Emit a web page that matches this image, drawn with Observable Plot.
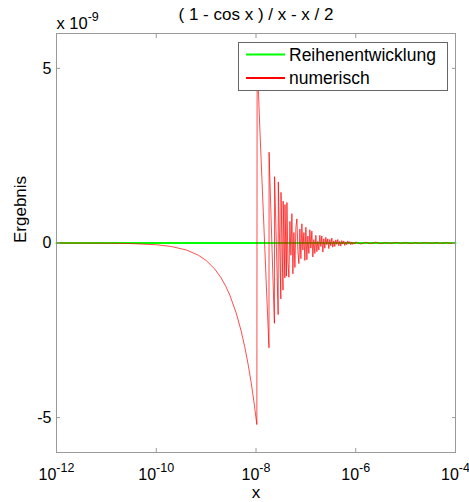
<!DOCTYPE html>
<html><head><meta charset="utf-8">
<script src="https://cdn.jsdelivr.net/npm/d3@7"></script>
<script src="https://cdn.jsdelivr.net/npm/@observablehq/plot@0.6"></script>
<style>body{margin:0;background:#fff}#chart svg{display:block}</style>
</head><body><div id="chart"></div><script>
const title = "( 1 - cos x ) / x - x / 2";
const xLabel = "x";
const yLabel = "Ergebnis";
const seriesNames = ["Reihenentwicklung", "numerisch"];
const seriesColors = ["#00ff00", "#ff0000"];
const xTicks = [1e-12, 1e-10, 1e-8, 1e-6, 1e-4];
const xTickExponents = ["-12", "-10", "-8", "-6", "-4"];
const yTicks = [-5, 0, 5];
const yExponent = "-9";

// Reihenentwicklung (values in units of 1e-9)
const greenX = [1e-12, 1e-10, 1e-8, 1e-6, 1e-4];
const greenY = [0, 0, 0, 0, 0];

// numerisch (values in units of 1e-9)
const redX = [
  1e-12, 1e-11, 3e-11, 1e-10, 2e-10, 4e-10, 7e-10, 1e-9, 1.5e-9, 2e-9, 2.5e-9, 3e-9, 4e-9, 5e-9, 6e-9, 7e-9, 8e-9, 9e-9, 1.04e-8,
  1.054e-8, 1.2e-8, 1.4e-8, 1.6e-8, 1.82e-8, 1.83e-8, 2.1e-8, 2.34e-8, 2.36e-8, 2.78e-8, 2.80e-8, 3.15e-8, 3.17e-8, 3.48e-8, 3.50e-8, 3.79e-8, 3.81e-8, 4.07e-8,
  4.169e-8, 4.365e-8, 4.571e-8, 4.786e-8, 5.012e-8, 5.248e-8, 5.495e-8, 5.754e-8, 6.026e-8, 6.310e-8, 6.607e-8, 6.918e-8, 7.244e-8, 7.586e-8, 7.943e-8, 8.318e-8, 8.710e-8, 9.120e-8, 9.550e-8,
  1.000e-7, 1.047e-7, 1.096e-7, 1.148e-7, 1.202e-7, 1.259e-7, 1.318e-7, 1.380e-7, 1.445e-7, 1.514e-7, 1.585e-7, 1.660e-7, 1.738e-7, 1.820e-7, 1.905e-7, 1.995e-7,
  2.089e-7, 2.188e-7, 2.291e-7, 2.399e-7, 2.512e-7, 2.630e-7, 2.754e-7, 2.884e-7, 3.020e-7, 3.162e-7, 3.311e-7, 3.467e-7, 3.631e-7, 3.802e-7, 3.981e-7,
  4.169e-7, 4.365e-7, 4.571e-7, 4.786e-7, 5.012e-7, 5.248e-7, 5.495e-7, 5.754e-7, 6.026e-7, 6.310e-7, 6.607e-7, 6.918e-7, 7.244e-7, 7.586e-7, 7.943e-7, 8.318e-7, 8.710e-7, 9.120e-7, 9.550e-7,
  1.0e-6, 1.259e-6, 1.585e-6, 1.995e-6, 2.512e-6, 3.162e-6, 3.981e-6, 5.012e-6, 6.310e-6, 7.943e-6,
  1.0e-5, 1.259e-5, 1.585e-5, 1.995e-5, 2.512e-5, 3.162e-5, 3.981e-5, 5.012e-5, 6.310e-5, 7.943e-5, 1.0e-4
];
const redY = [
  -0.0005, -0.005, -0.015, -0.05, -0.1, -0.2, -0.35, -0.5, -0.75, -1.0, -1.25, -1.5, -2.0, -2.5, -3.0, -3.5, -4.0, -4.5, -5.2,
  5.3, 3.2, 0.9, -1.1, -3.0, 2.6, -0.2, -2.3, 1.9, -2.05, 1.75, -1.6, 1.45, -1.35, 1.2, -1.0, 1.1, -0.95,
  1.16, -0.55, -0.98, 0.62, -0.35, 0.84, -0.88, 0.30, -0.70, 0.45, 0.69, -0.25, -0.59, 0.40, -0.45, 0.55, -0.20, 0.30, -0.50,
  0.45, -0.48, 0.20, -0.30, 0.38, -0.15, 0.34, -0.40, 0.10, -0.30, 0.22, -0.25, 0.05, -0.20, 0.22, -0.10,
  0.20, -0.26, 0.12, -0.15, 0.16, -0.05, 0.12, -0.16, 0.10, -0.08, 0.14, -0.12, 0.06, -0.10, 0.09,
  -0.04, 0.10, -0.08, 0.05, -0.09, 0.07, -0.03, 0.06, -0.07, 0.03, -0.05, 0.06, -0.02, 0.04, -0.05, 0.03, -0.04, 0.02, -0.03,
  0.03, -0.03, 0.02, -0.02, 0.025, -0.02, 0.015, -0.015, 0.02, -0.01,
  0.01, -0.015, 0.01, -0.01, 0.012, -0.01, 0.01, -0.012, 0.01, -0.01, 0.005
];

const green = greenX.map((x, i) => ({x, y: greenY[i]}));
const red = redX.map((x, i) => ({x, y: redY[i]}));

const FONT = "'Liberation Sans', Arial, Helvetica, sans-serif";
const axisGray = "#9a9a9a";

const chart = Plot.plot({
  width: 469,
  height: 502,
  marginLeft: 56,
  marginRight: 14,
  marginTop: 33,
  marginBottom: 50,
  style: {fontFamily: FONT, fontSize: "16px", background: "white", overflow: "visible", color: "black"},
  x: {type: "log", domain: [1e-12, 1e-4], label: null},
  y: {domain: [-6, 6], label: null},
  marks: [
    Plot.frame({stroke: axisGray}),
    Plot.line(green, {x: "x", y: "y", stroke: seriesColors[0], strokeWidth: 2}),
    Plot.line(red, {x: "x", y: "y", stroke: seriesColors[1], strokeWidth: 0.7, clip: true}),
    Plot.axisX(xTicks, {anchor: "bottom", tickSize: -4, tickFormat: () => "", stroke: axisGray, label: null}),
    Plot.axisX(xTicks, {anchor: "top", tickSize: -4, tickFormat: () => "", stroke: axisGray, label: null}),
    Plot.axisY(yTicks, {anchor: "left", tickSize: -4, tickFormat: () => "", stroke: axisGray, label: null}),
    Plot.axisY(yTicks, {anchor: "right", tickSize: -4, tickFormat: () => "", stroke: axisGray, label: null}),
    Plot.axisX(xTicks, {anchor: "bottom", tickSize: 0, tickPadding: 16, fontSize: 16, fill: "black",
      tickFormat: (d) => "10^" + xTickExponents[xTicks.indexOf(d)], label: null}),
    Plot.axisY(yTicks, {anchor: "left", tickSize: 0, tickPadding: 5, fontSize: 16, fill: "black",
      tickFormat: (d) => String(d), label: null}),
    Plot.text([title], {frameAnchor: "top", lineAnchor: "middle", dy: -19, fontSize: 17, fill: "black"}),
    Plot.text(["x 10^" + yExponent], {frameAnchor: "top-left", lineAnchor: "middle", textAnchor: "start", dy: -10, fontSize: 16.5, fill: "black"}),
    Plot.text([xLabel], {frameAnchor: "bottom", lineAnchor: "middle", dy: 40, fontSize: 17, fill: "black"}),
    Plot.text([yLabel], {frameAnchor: "left", lineAnchor: "middle", dx: -36, rotate: -90, fontSize: 17, fill: "black"})
  ]
});

document.getElementById("chart").appendChild(chart);
const svg = d3.select(chart);

// superscript exponents: any text "base^exp"
svg.selectAll("text").each(function() {
  const s = this.textContent;
  const k = s.indexOf("^");
  if (k < 0) return;
  const t = d3.select(this);
  t.text(null);
  t.append("tspan").text(s.slice(0, k));
  t.append("tspan").attr("dy", "-0.6em").attr("font-size", 12.5).text(s.slice(k + 1));
});

// legend
const lg = svg.append("g").attr("font-family", FONT).attr("font-size", 17.5).attr("text-anchor", "start");
lg.append("rect").attr("x", 238.5).attr("y", 42.5).attr("width", 209).attr("height", 48)
  .attr("fill", "white").attr("stroke", "#666").attr("stroke-width", 1);
seriesNames.forEach((name, i) => {
  const yy = 54.5 + i * 23.5;
  lg.append("line").attr("x1", 246).attr("x2", 285).attr("y1", yy).attr("y2", yy)
    .attr("stroke", seriesColors[i]).attr("stroke-width", 2);
  lg.append("text").attr("x", 289).attr("y", yy).attr("dy", "0.35em").attr("fill", "black")
    .attr("text-anchor", "start").text(name);
});
</script></body></html>
